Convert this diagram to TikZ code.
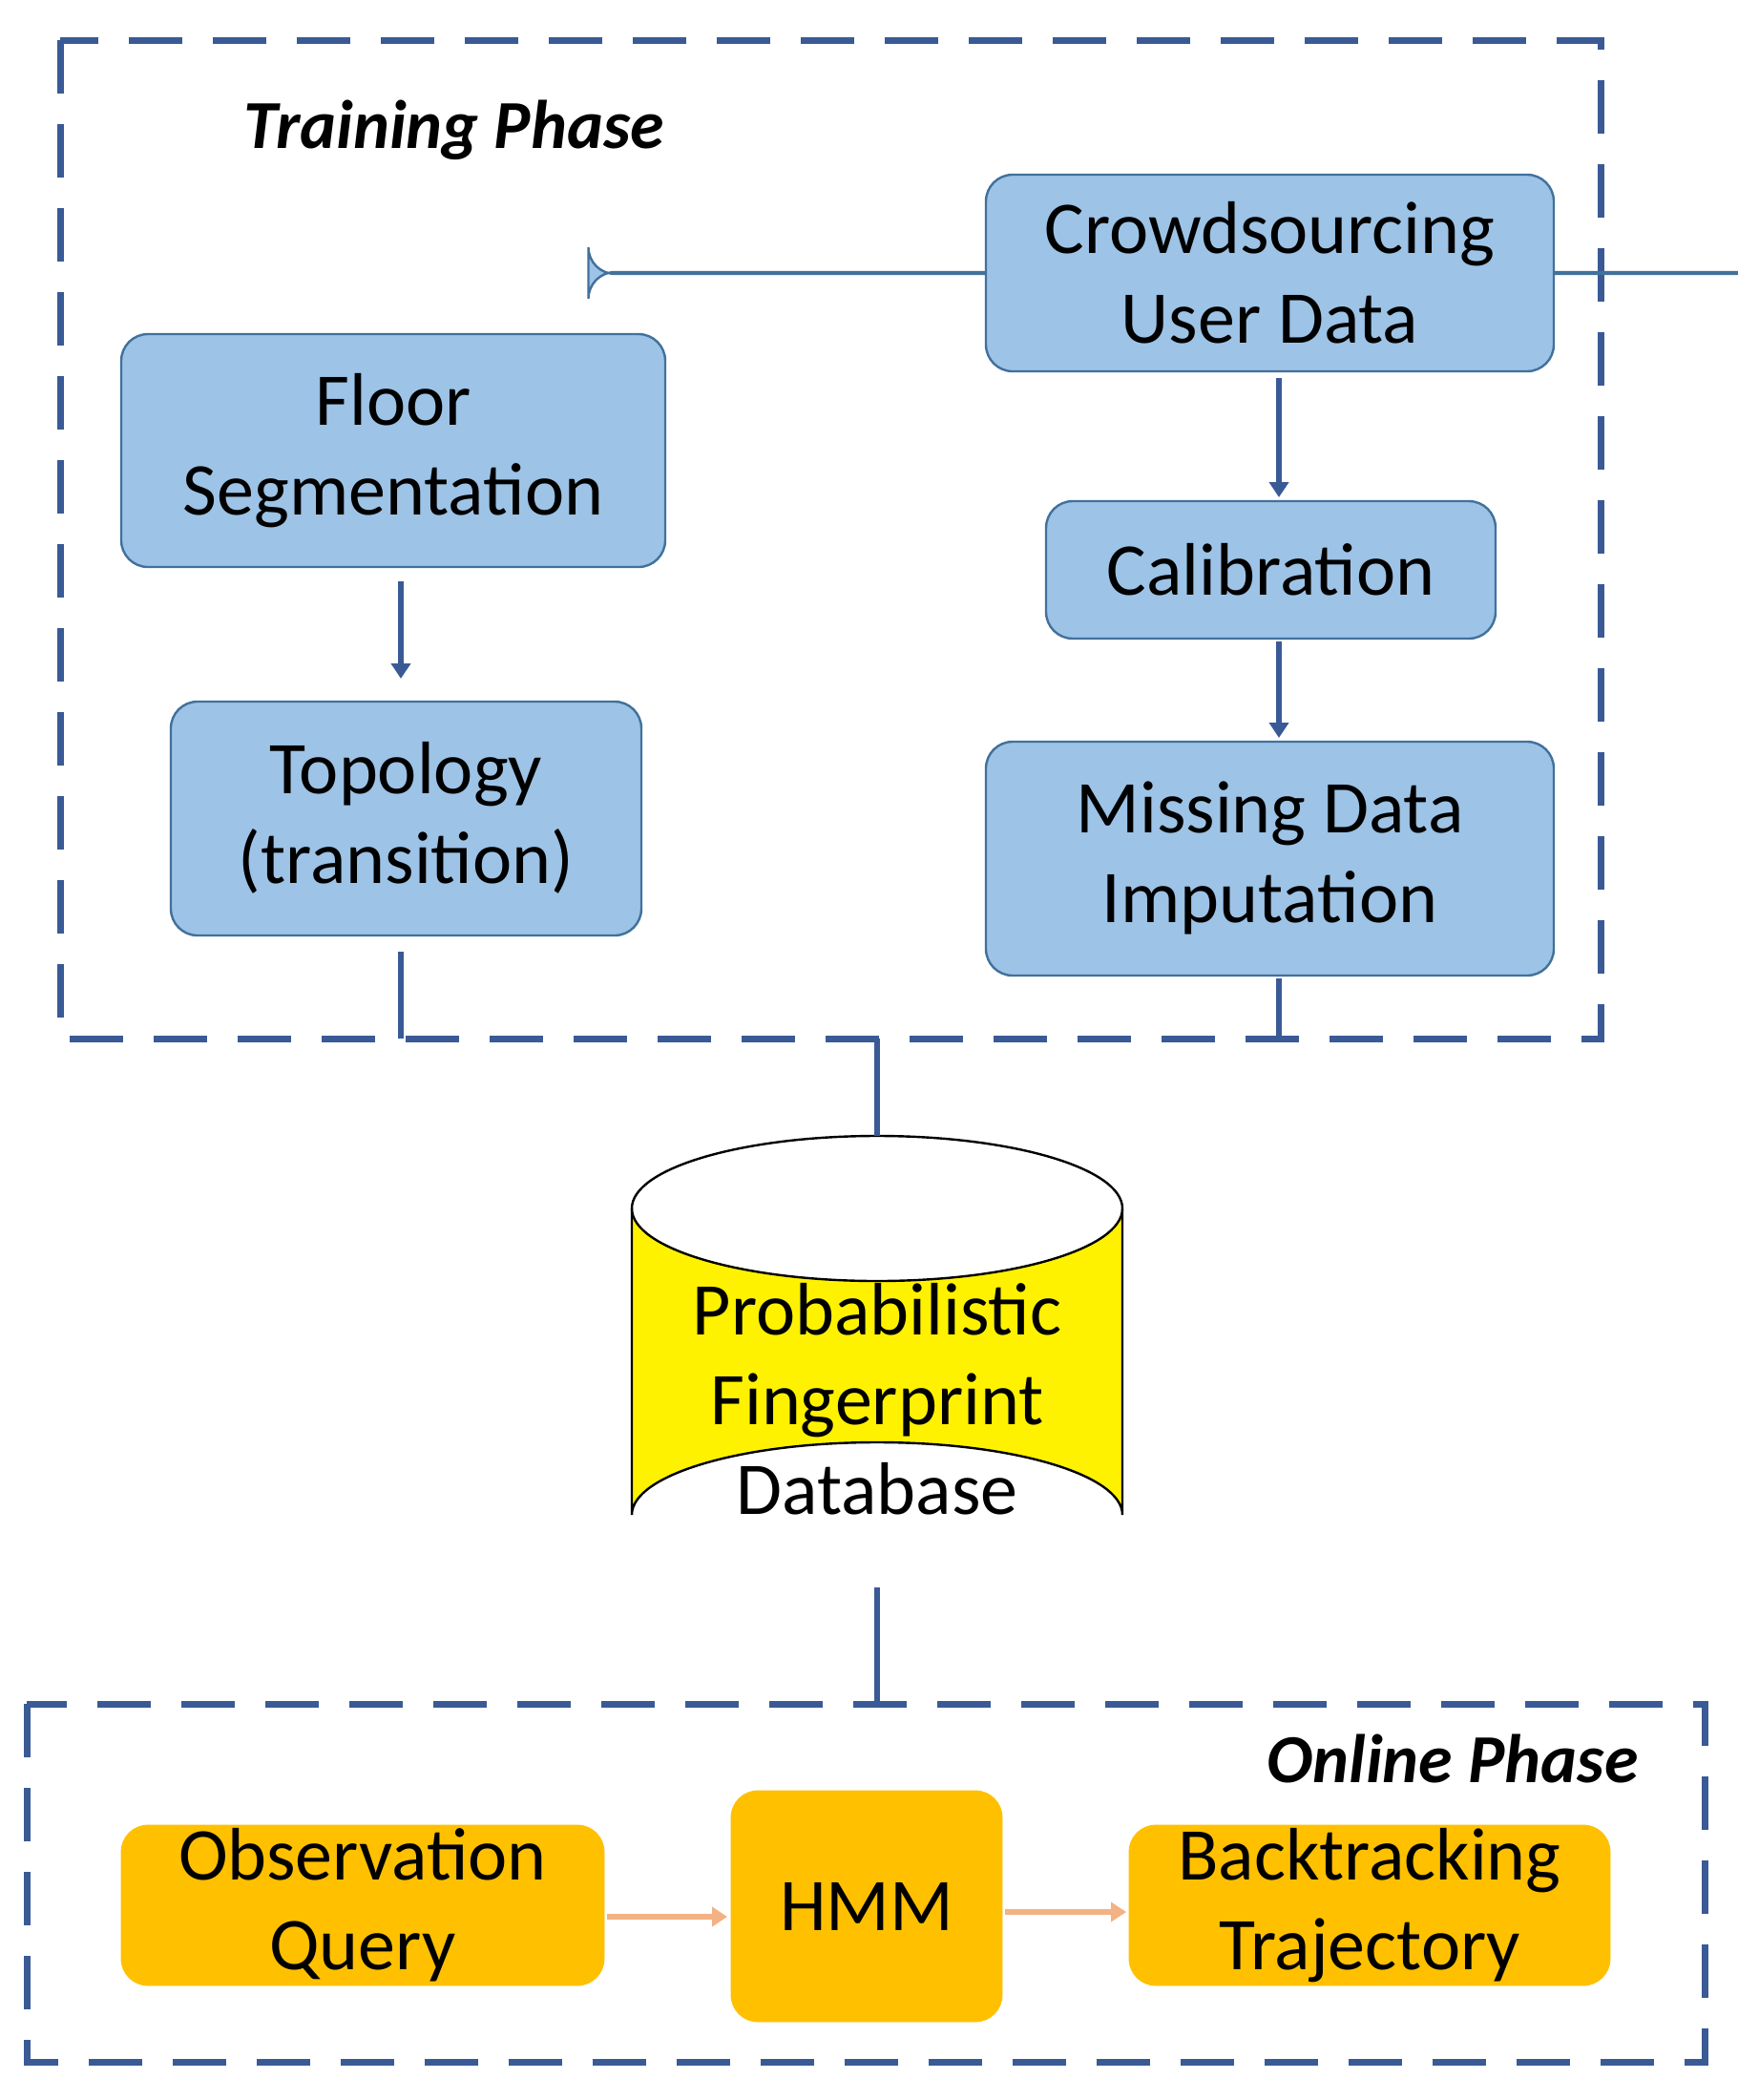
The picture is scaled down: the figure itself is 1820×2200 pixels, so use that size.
\documentclass[tikz,border=0pt]{standalone}
\usepackage{fontspec}
\setmainfont{Carlito}
\usetikzlibrary{shapes.geometric,arrows.meta}
\definecolor{bfill}{HTML}{9DC3E6}
\definecolor{bline}{HTML}{41719C}
\definecolor{dline}{HTML}{3A5A96}
\definecolor{ofill}{HTML}{FFC000}
\definecolor{oline}{HTML}{F4B183}
\tikzset{
 blk/.style={draw=bline,line width=1.2pt,fill=bfill,rounded corners=14pt,align=center,font=\fontsize{39}{47}\selectfont},
 org/.style={draw=ofill,fill=ofill,rounded corners=14pt,align=center,font=\fontsize{39}{47}\selectfont},
 phase/.style={draw=dline,line width=3.5pt,dash pattern=on 28pt off 16pt},
 conn/.style={draw=dline,line width=3pt},
 arr/.style={conn,-{Triangle[length=8pt,width=10pt]}},
 oarr/.style={draw=oline,line width=3pt,-{Triangle[length=8pt,width=10pt]}},
}
\begin{document}
\begin{tikzpicture}[x=0.5pt,y=-0.5pt]
\useasboundingbox (0,0) rectangle (1820,2200);
\draw[phase] (63,42) rectangle (1677,1088);
\draw[phase] (28,1785) rectangle (1786,2160);
\node[font=\fontsize{36}{40}\selectfont\bfseries\itshape] (tp) at (476,136) {Training Phase};
\node[font=\fontsize{36}{40}\selectfont\bfseries\itshape] (op) at (1522,1842) {Online Phase};
\node[blk,minimum width=595\pgflinewidth,inner sep=0] (cr) at (1330.5,286) {};
\path[blk,draw=bline] (1033,183) rectangle (1628,389);
\node[font=\fontsize{39}{47}\selectfont,align=center] (crt) at (1330.5,286) {Crowdsourcing\\User Data};
\path[blk] (127,350) rectangle (697,594);
\node[font=\fontsize{39}{47}\selectfont,align=center] (fs) at (412,472) {Floor\\Segmentation};
\path[blk] (1096,525) rectangle (1567,669);
\node[font=\fontsize{39}{47}\selectfont] (ca) at (1331.5,597) {Calibration};
\path[blk] (179,735) rectangle (672,980);
\node[font=\fontsize{39}{47}\selectfont,align=center] (to) at (425.5,857) {Topology\\(transition)};
\path[blk] (1033,777) rectangle (1628,1022);
\node[font=\fontsize{39}{47}\selectfont,align=center] (mi) at (1330.5,899) {Missing Data\\Imputation};
% cylinder
\fill[yellow] (662,1266) -- (662,1587) arc[start angle=180,end angle=360,x radius=257,y radius=76] -- (1176,1266) arc[start angle=0,end angle=180,x radius=257,y radius=76];
\draw[black,line width=1.2pt] (662,1266) -- (662,1587) arc[start angle=180,end angle=360,x radius=257,y radius=76] -- (1176,1266);
\draw[black,line width=1.2pt] (919,1266) ellipse[x radius=257,y radius=76];
\node[font=\fontsize{39}{47}\selectfont,align=center] (db) at (919,1466) {Probabilistic\\Fingerprint\\Database};
\coordinate (dbt) at (919,1190);
\coordinate (dbb) at (919,1663);
% online
\path[org] (127,1912) rectangle (633,2080);
\node[font=\fontsize{39}{47}\selectfont,align=center] (ob) at (380,1996) {Observation\\Query};
\path[org] (766,1876) rectangle (1050,2118);
\node[font=\fontsize{39}{47}\selectfont] (hm) at (908,1997) {HMM};
\path[org] (1183,1912) rectangle (1687,2080);
\node[font=\fontsize{39}{47}\selectfont,align=center] (bt) at (1435,1996) {Backtracking\\Trajectory};
% connectors
\coordinate (fsb) at (420,609); \coordinate (tot) at (420,711);
\draw[arr] (fsb) -- (tot);
\coordinate (crb) at (1340,396); \coordinate (cat) at (1340,521);
\draw[arr] (crb) -- (cat);
\coordinate (cab) at (1340,672); \coordinate (mit) at (1340,773);
\draw[arr] (cab) -- (mit);
\coordinate (tob) at (420,997); \coordinate (tb1) at (420,1088);
\draw[conn] (tob) -- (tb1);
\coordinate (mib) at (1340,1025); \coordinate (tb2) at (1340,1088);
\draw[conn] (mib) -- (tb2);
\coordinate (tb3) at (919,1088);
\draw[conn] (tb3) -- (dbt);
\coordinate (onl) at (919,1785);
\draw[conn] (dbb) -- (onl);
\coordinate (oa) at (636,2008); \coordinate (ha) at (762,2008);
\draw[oarr] (oa) -- (ha);
\coordinate (hb) at (1053,2003); \coordinate (ba) at (1180,2003);
\draw[oarr] (hb) -- (ba);
\end{tikzpicture}
\end{document}
